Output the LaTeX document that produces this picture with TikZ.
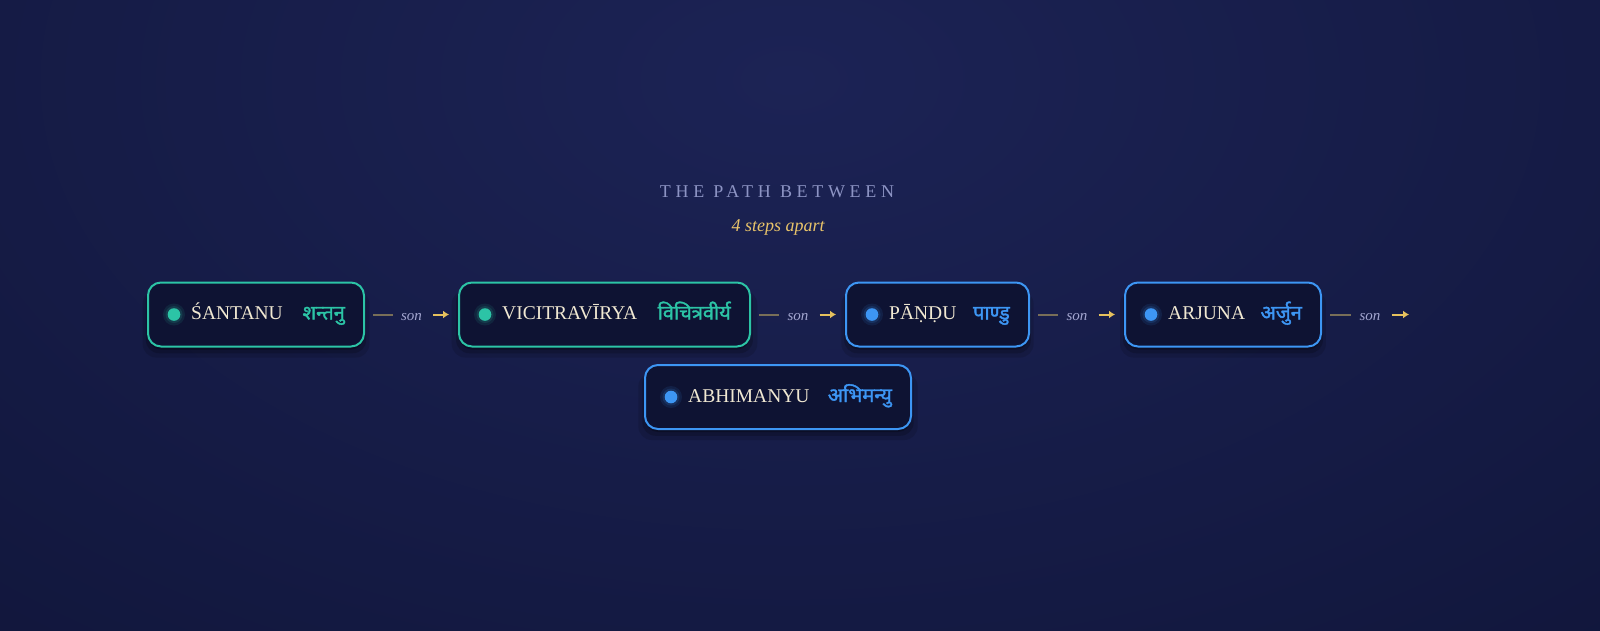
\documentclass[tikz,border=0pt]{standalone}
\usepackage{fontspec}
\setmainfont{Liberation Serif}
\newfontfamily\devafont[Script=Devanagari, FakeBold=1.6]{Noto Sans}
\newfontfamily\titlefont[LetterSpace=26]{Liberation Serif}
\usepackage{tikz}
\usetikzlibrary{arrows,arrows.meta,positioning,shadows}

\definecolor{bgdark}{HTML}{0F1437}
\definecolor{bglight}{HTML}{1C2355}
\definecolor{boxfill}{HTML}{0E1333}
\definecolor{tealline}{HTML}{2CC4A6}
\definecolor{blueline}{HTML}{3D96F4}
\definecolor{namecream}{HTML}{F0E8D2}
\definecolor{titlegrey}{HTML}{8D94C4}
\definecolor{goldtext}{HTML}{E8C36A}
\definecolor{goldarrow}{HTML}{E6C15D}
\definecolor{sonlabel}{HTML}{A3A6D0}
\definecolor{linkline}{HTML}{786E58}

\begin{document}
\begin{tikzpicture}[
        x=1pt, y=-1pt,
        person/.style={
            rectangle,
            draw,
            line width=2pt,
            fill=boxfill,
            minimum height=64pt,
            rounded corners=13pt,
            drop shadow={shadow xshift=0pt, shadow yshift=-9pt, shadow scale=1.05, opacity=0.12, fill=black},
            drop shadow={shadow xshift=0pt, shadow yshift=-6pt, shadow scale=1.02, opacity=0.18, fill=black},
            drop shadow={shadow xshift=0pt, shadow yshift=-3pt, opacity=0.25, fill=black}
        },
        elder/.style={person, draw=tealline},
        heir/.style={person, draw=blueline},
        latin/.style={anchor=base west, inner sep=0pt, text=namecream, font=\fontsize{19.5}{22}\selectfont},
        deva/.style={anchor=base east, inner sep=0pt, font=\devafont\fontsize{20}{24}\selectfont},
        title/.style={anchor=base, inner sep=0pt, text=titlegrey, font=\titlefont\fontsize{18}{21}\selectfont},
        subtitle/.style={anchor=base, inner sep=0pt, text=goldtext, font=\itshape\fontsize{18}{22}\selectfont},
        son/.style={inner sep=0pt, text=sonlabel, font=\itshape\fontsize{15}{18}\selectfont},
        link/.style={draw=linkline, line width=2pt},
        arrow/.style={-{Latex[length=6pt,width=8pt]}, draw=goldarrow, line width=2pt}
    ]
        \useasboundingbox (0,0) rectangle (1600,630);

        % Background
        \begin{scope}
            \clip (0,0) rectangle (1600,630);
            \fill[bgdark] (0,0) rectangle (1600,630);
            \shade[inner color=bglight, outer color=bgdark] (790,80) ellipse (1500pt and 900pt);
        \end{scope}

        % Heading
        \node[title] (heading) at (777,197) {THE PATH BETWEEN};
        \node[subtitle] (apart) at (778,231) {4 steps apart};

        % Person boxes
        \node[elder, minimum width=216pt] (santanu) at (256,314.5) {};
        \node[elder, minimum width=291pt] (vicitra) at (604.5,314.5) {};
        \node[heir, minimum width=183pt] (pandu) at (937.5,314.5) {};
        \node[heir, minimum width=196pt] (arjuna) at (1223,314.5) {};
        \node[heir, minimum width=266pt] (abhimanyu) at (778,397) {};

        % Dots
        \fill[tealline, opacity=0.10] ([xshift=27pt]santanu.west) circle (11pt);
        \fill[tealline, opacity=0.15] ([xshift=27pt]santanu.west) circle (8.5pt);
        \fill[tealline] ([xshift=27pt]santanu.west) circle (6.3pt);
        \fill[tealline, opacity=0.10] ([xshift=27pt]vicitra.west) circle (11pt);
        \fill[tealline, opacity=0.15] ([xshift=27pt]vicitra.west) circle (8.5pt);
        \fill[tealline] ([xshift=27pt]vicitra.west) circle (6.3pt);
        \fill[blueline, opacity=0.10] ([xshift=27pt]pandu.west) circle (11pt);
        \fill[blueline, opacity=0.15] ([xshift=27pt]pandu.west) circle (8.5pt);
        \fill[blueline] ([xshift=27pt]pandu.west) circle (6.3pt);
        \fill[blueline, opacity=0.10] ([xshift=27pt]arjuna.west) circle (11pt);
        \fill[blueline, opacity=0.15] ([xshift=27pt]arjuna.west) circle (8.5pt);
        \fill[blueline] ([xshift=27pt]arjuna.west) circle (6.3pt);
        \fill[blueline, opacity=0.10] ([xshift=27pt]abhimanyu.west) circle (11pt);
        \fill[blueline, opacity=0.15] ([xshift=27pt]abhimanyu.west) circle (8.5pt);
        \fill[blueline] ([xshift=27pt]abhimanyu.west) circle (6.3pt);

        % Names
        \node[latin] (santanu-name) at ([xshift=44pt,yshift=-5pt]santanu.west) {ŚANTANU};
        \node[deva, text=tealline] (santanu-deva) at ([xshift=-20pt,yshift=-5pt]santanu.east) {शन्तनु};
        \node[latin] (vicitra-name) at ([xshift=44pt,yshift=-5pt]vicitra.west) {VICITRAVĪRYA};
        \node[deva, text=tealline] (vicitra-deva) at ([xshift=-20pt,yshift=-5pt]vicitra.east) {विचित्रवीर्य};
        \node[latin] (pandu-name) at ([xshift=44pt,yshift=-5pt]pandu.west) {PĀṆḌU};
        \node[deva, text=blueline] (pandu-deva) at ([xshift=-20pt,yshift=-5pt]pandu.east) {पाण्डु};
        \node[latin] (arjuna-name) at ([xshift=44pt,yshift=-5pt]arjuna.west) {ARJUNA};
        \node[deva, text=blueline] (arjuna-deva) at ([xshift=-20pt,yshift=-5pt]arjuna.east) {अर्जुन};
        \node[latin] (abhimanyu-name) at ([xshift=44pt,yshift=-5pt]abhimanyu.west) {ABHIMANYU};
        \node[deva, text=blueline] (abhimanyu-deva) at ([xshift=-20pt,yshift=-5pt]abhimanyu.east) {अभिमन्यु};

        % Son links
        \coordinate (nextrow) at ([xshift=96pt]arjuna.east);
        \path (santanu.east) -- (vicitra.west) coordinate[midway] (mid1);
        \path (vicitra.east) -- (pandu.west) coordinate[midway] (mid2);
        \path (pandu.east) -- (arjuna.west) coordinate[midway] (mid3);
        \path (arjuna.east) -- (nextrow) coordinate[midway] (mid4);

        \node[son] (son1) at ([yshift=-3pt]mid1) {son};
        \node[son] (son2) at ([yshift=-3pt]mid2) {son};
        \node[son] (son3) at ([yshift=-3pt]mid3) {son};
        \node[son] (son4) at ([yshift=-3pt]mid4) {son};

        \draw[link] ([xshift=8pt]santanu.east) -- ([xshift=-8pt]son1.west |- mid1);
        \draw[arrow] ([xshift=11pt]son1.east |- mid1) -- ([xshift=-9pt]vicitra.west);
        \draw[link] ([xshift=8pt]vicitra.east) -- ([xshift=-8pt]son2.west |- mid2);
        \draw[arrow] ([xshift=11pt]son2.east |- mid2) -- ([xshift=-9pt]pandu.west);
        \draw[link] ([xshift=8pt]pandu.east) -- ([xshift=-8pt]son3.west |- mid3);
        \draw[arrow] ([xshift=11pt]son3.east |- mid3) -- ([xshift=-9pt]arjuna.west);
        \draw[link] ([xshift=8pt]arjuna.east) -- ([xshift=-8pt]son4.west |- mid4);
        \draw[arrow] ([xshift=11pt]son4.east |- mid4) -- ([xshift=-9pt]nextrow);

    \end{tikzpicture}
\end{document}
